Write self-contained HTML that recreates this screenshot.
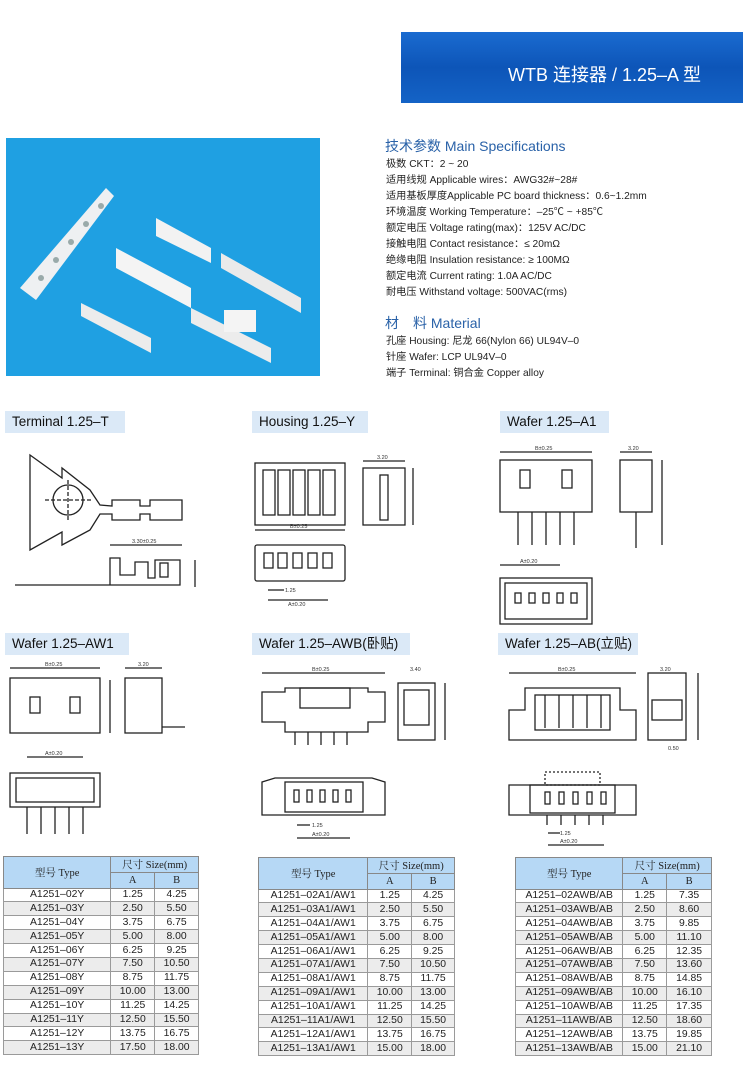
<!DOCTYPE html>
<html><head><meta charset="utf-8"><style>
*{margin:0;padding:0;box-sizing:border-box}
body{width:743px;height:1066px;background:#fff;position:relative;overflow:hidden;font-family:"Liberation Sans","Noto Sans CJK SC",sans-serif;color:#222}
.abs{position:absolute}
.banner{left:401px;top:32px;width:342px;height:71px;background:linear-gradient(180deg,#1a6bd0 0%,#0d55b8 50%,#1463c6 100%)}
.banner span{position:absolute;left:107px;top:29px;color:#fff;font-size:18px;white-space:nowrap}
.photo{left:6px;top:138px;width:314px;height:238px;background:#1fa0e2}
.spec{left:386px;font-size:10.2px;white-space:nowrap;color:#222}
.h{left:385px;font-size:14px;color:#2a62a8;white-space:nowrap}
.lab{background:#dbe9f7;font-size:13.5px;height:22px;line-height:22px;padding-left:7px;white-space:nowrap;color:#111}
table{position:absolute;border-collapse:collapse;font-size:10.4px;border:1.5px solid #555}
td{border:1px solid #9a9a9a;text-align:center;height:13.9px;padding:0;line-height:12px}
tr.g td{background:#ececec}
th{background:#b6d8f5;font-family:"Liberation Serif","Noto Serif CJK SC",serif;font-weight:normal;font-size:10.5px;border:1px solid #888;height:15.5px;padding:0}
</style></head><body>
<div class="abs banner"><span>WTB 连接器 / 1.25–A 型</span></div>
<div class="abs photo">
<svg width="314" height="238">
<polygon points="14,150 100,50 108,58 30,162" fill="#eef0f2"/>
<g fill="#9aa"><circle cx="95" cy="68" r="3"/><circle cx="80" cy="86" r="3"/><circle cx="65" cy="104" r="3"/><circle cx="50" cy="122" r="3"/><circle cx="35" cy="140" r="3"/></g>
<polygon points="150,80 205,110 205,125 150,98" fill="#f2f2f2"/>
<polygon points="110,110 185,150 185,170 110,130" fill="#f4f4f4"/>
<polygon points="215,115 295,160 295,175 215,130" fill="#eaeaea"/>
<polygon points="75,165 145,200 145,215 75,178" fill="#ececec"/>
<polygon points="185,170 265,210 265,225 185,185" fill="#ececec"/>
<rect x="218" y="172" width="32" height="22" fill="#f4f4f4"/>
</svg></div>
<div class="abs h" style="top:136px">技术参数 Main Specifications</div>
<div class="abs spec" style="top:155px">极数 CKT：2 ~ 20</div>
<div class="abs spec" style="top:171px">适用线规 Applicable wires：AWG32#~28#</div>
<div class="abs spec" style="top:187px">适用基板厚度Applicable PC board thickness：0.6~1.2mm</div>
<div class="abs spec" style="top:203px">环境温度 Working Temperature：–25℃ ~ +85℃</div>
<div class="abs spec" style="top:219px">额定电压 Voltage rating(max)：125V AC/DC</div>
<div class="abs spec" style="top:235px">接触电阻 Contact resistance：≤ 20mΩ</div>
<div class="abs spec" style="top:251px">绝缘电阻 Insulation resistance: ≥ 100MΩ</div>
<div class="abs spec" style="top:267px">额定电流 Current rating: 1.0A AC/DC</div>
<div class="abs spec" style="top:283px">耐电压 Withstand voltage: 500VAC(rms)</div>
<div class="abs h" style="top:313px">材　料 Material</div>
<div class="abs spec" style="top:332px">孔座 Housing: 尼龙 66(Nylon 66) UL94V–0</div>
<div class="abs spec" style="top:348px">针座 Wafer: LCP UL94V–0</div>
<div class="abs spec" style="top:364px">端子 Terminal: 铜合金 Copper alloy</div>

<div class="abs lab" style="left:5px;top:411px;width:120px">Terminal 1.25–T</div>
<div class="abs lab" style="left:252px;top:411px;width:116px">Housing 1.25–Y</div>
<div class="abs lab" style="left:500px;top:411px;width:109px">Wafer 1.25–A1</div>
<div class="abs lab" style="left:5px;top:633px;width:124px">Wafer 1.25–AW1</div>
<div class="abs lab" style="left:252px;top:633px;width:158px">Wafer 1.25–AWB(卧贴)</div>
<div class="abs lab" style="left:498px;top:633px;width:140px">Wafer 1.25–AB(立贴)</div>

<svg class="abs" style="left:0;top:0" width="743" height="860" fill="none" stroke="#222" stroke-width="1.3" font-family="Liberation Sans" font-size="5.5">
<polygon points="30,455 62,478 62,468 90,490 100,505 112,506 112,500 140,500 140,506 150,506 150,500 182,500 182,520 150,520 150,514 140,514 140,520 112,520 112,514 100,514 90,530 62,545 62,532 30,550 30,455"/>
<circle cx="68" cy="500" r="15"/>
<line x1="45" y1="500" x2="92" y2="500" stroke-dasharray="4,2"/>
<line x1="68" y1="480" x2="68" y2="520" stroke-dasharray="4,2"/>
<path d="M15,585 H110 V558 H120 V575 H135 V562 H148 V578 H155 V560 H180 V585 H110"/>
<rect x="160" y="563" width="8" height="14"/>
<line x1="110" y1="545" x2="182" y2="545"/><text x="132" y="543" stroke="none" fill="#333">3.30±0.25</text>
<line x1="195" y1="560" x2="195" y2="587"/>
<rect x="255" y="463" width="90" height="62"/>
<g><rect x="263" y="470" width="12" height="45"/><rect x="278" y="470" width="12" height="45"/><rect x="293" y="470" width="12" height="45"/><rect x="308" y="470" width="12" height="45"/><rect x="323" y="470" width="12" height="45"/></g>
<line x1="255" y1="530" x2="345" y2="530"/><text x="290" y="528" stroke="none" fill="#333">B±0.25</text>
<rect x="363" y="468" width="42" height="57"/><rect x="380" y="475" width="8" height="45"/>
<line x1="363" y1="461" x2="405" y2="461"/><text x="377" y="459" stroke="none" fill="#333">3.20</text>
<line x1="413" y1="468" x2="413" y2="525"/>
<rect x="255" y="545" width="90" height="36" rx="2"/>
<g><rect x="264" y="553" width="9" height="15"/><rect x="278" y="553" width="9" height="15"/><rect x="293" y="553" width="9" height="15"/><rect x="308" y="553" width="9" height="15"/><rect x="323" y="553" width="9" height="15"/></g>
<line x1="268" y1="590" x2="284" y2="590"/><text x="285" y="592" stroke="none" fill="#333">1.25</text>
<line x1="268" y1="600" x2="328" y2="600"/><text x="288" y="606" stroke="none" fill="#333">A±0.20</text>
<line x1="500" y1="452" x2="592" y2="452"/><text x="535" y="450" stroke="none" fill="#333">B±0.25</text>
<rect x="500" y="460" width="92" height="52"/>
<rect x="520" y="470" width="10" height="18"/><rect x="562" y="470" width="10" height="18"/>
<g><line x1="518" y1="512" x2="518" y2="545"/><line x1="532" y1="512" x2="532" y2="545"/><line x1="546" y1="512" x2="546" y2="545"/><line x1="560" y1="512" x2="560" y2="545"/><line x1="574" y1="512" x2="574" y2="545"/></g>
<rect x="620" y="460" width="32" height="52"/><line x1="636" y1="512" x2="636" y2="548"/>
<line x1="620" y1="452" x2="652" y2="452"/><text x="628" y="450" stroke="none" fill="#333">3.20</text>
<line x1="662" y1="460" x2="662" y2="545"/>
<line x1="500" y1="565" x2="560" y2="565"/><text x="520" y="563" stroke="none" fill="#333">A±0.20</text>
<rect x="500" y="578" width="92" height="46"/><rect x="505" y="583" width="82" height="36"/>
<g><rect x="515" y="593" width="6" height="10"/><rect x="529" y="593" width="6" height="10"/><rect x="543" y="593" width="6" height="10"/><rect x="557" y="593" width="6" height="10"/><rect x="571" y="593" width="6" height="10"/></g>
<line x1="10" y1="668" x2="100" y2="668"/><text x="45" y="666" stroke="none" fill="#333">B±0.25</text>
<rect x="10" y="678" width="90" height="55"/>
<rect x="30" y="697" width="10" height="16"/><rect x="70" y="697" width="10" height="16"/>
<rect x="125" y="678" width="37" height="55"/><line x1="162" y1="727" x2="185" y2="727"/>
<line x1="125" y1="668" x2="162" y2="668"/><text x="138" y="666" stroke="none" fill="#333">3.20</text>
<line x1="110" y1="680" x2="110" y2="733"/>
<rect x="10" y="773" width="90" height="34"/><rect x="16" y="778" width="78" height="24"/>
<g><line x1="27" y1="807" x2="27" y2="834"/><line x1="41" y1="807" x2="41" y2="834"/><line x1="55" y1="807" x2="55" y2="834"/><line x1="69" y1="807" x2="69" y2="834"/><line x1="83" y1="807" x2="83" y2="834"/></g>
<line x1="27" y1="757" x2="83" y2="757"/><text x="45" y="755" stroke="none" fill="#333">A±0.20</text>
<line x1="262" y1="673" x2="385" y2="673"/><text x="312" y="671" stroke="none" fill="#333">B±0.25</text>
<path d="M262,692 H285 V688 H368 V692 H385 V722 H368 V732 H285 V722 H262 Z"/>
<rect x="300" y="688" width="50" height="20"/>
<g><line x1="295" y1="732" x2="295" y2="745"/><line x1="308" y1="732" x2="308" y2="745"/><line x1="321" y1="732" x2="321" y2="745"/><line x1="334" y1="732" x2="334" y2="745"/><line x1="347" y1="732" x2="347" y2="745"/></g>
<rect x="398" y="683" width="37" height="57"/><rect x="404" y="690" width="25" height="35"/>
<text x="410" y="671" stroke="none" fill="#333">3.40</text>
<line x1="445" y1="683" x2="445" y2="740"/>
<path d="M262,782 L275,778 H372 L385,782 V815 H262 Z"/><rect x="285" y="782" width="78" height="30"/>
<g><rect x="294" y="790" width="5" height="12"/><rect x="307" y="790" width="5" height="12"/><rect x="320" y="790" width="5" height="12"/><rect x="333" y="790" width="5" height="12"/><rect x="346" y="790" width="5" height="12"/></g>
<line x1="297" y1="825" x2="310" y2="825"/><text x="312" y="827" stroke="none" fill="#333">1.25</text>
<line x1="297" y1="838" x2="350" y2="838"/><text x="312" y="836" stroke="none" fill="#333">A±0.20</text>
<line x1="509" y1="673" x2="636" y2="673"/><text x="558" y="671" stroke="none" fill="#333">B±0.25</text>
<path d="M509,710 H525 V688 H620 V710 H636 V740 H509 Z"/>
<rect x="535" y="695" width="75" height="35"/>
<g><line x1="545" y1="695" x2="545" y2="728"/><line x1="559" y1="695" x2="559" y2="728"/><line x1="573" y1="695" x2="573" y2="728"/><line x1="587" y1="695" x2="587" y2="728"/><line x1="601" y1="695" x2="601" y2="728"/></g>
<rect x="648" y="673" width="38" height="67"/><rect x="652" y="700" width="30" height="20"/>
<text x="660" y="671" stroke="none" fill="#333">3.20</text>
<line x1="698" y1="673" x2="698" y2="740"/><text x="668" y="750" stroke="none" fill="#333">0.50</text>
<path d="M509,785 H636 V815 H509 Z"/><rect x="530" y="785" width="85" height="28"/>
<rect x="545" y="772" width="55" height="13" stroke-dasharray="2,2"/>
<g><rect x="545" y="792" width="5" height="12"/><rect x="559" y="792" width="5" height="12"/><rect x="573" y="792" width="5" height="12"/><rect x="587" y="792" width="5" height="12"/><rect x="601" y="792" width="5" height="12"/></g>
<g><line x1="547" y1="815" x2="547" y2="825"/><line x1="561" y1="815" x2="561" y2="825"/><line x1="575" y1="815" x2="575" y2="825"/><line x1="589" y1="815" x2="589" y2="825"/><line x1="603" y1="815" x2="603" y2="825"/></g>
<line x1="548" y1="833" x2="560" y2="833"/><text x="560" y="835" stroke="none" fill="#333">1.25</text>
<line x1="548" y1="845" x2="604" y2="845"/><text x="560" y="843" stroke="none" fill="#333">A±0.20</text>
</svg>

<table style="left:3px;top:856px;width:196px">
<colgroup><col style="width:108px"><col style="width:44px"><col style="width:44px"></colgroup>
<tr><th rowspan="2">型号 Type</th><th colspan="2">尺寸 Size(mm)</th></tr><tr><th>A</th><th>B</th></tr>
<tr><td>A1251–02Y</td><td>1.25</td><td>4.25</td></tr>
<tr class="g"><td>A1251–03Y</td><td>2.50</td><td>5.50</td></tr>
<tr><td>A1251–04Y</td><td>3.75</td><td>6.75</td></tr>
<tr class="g"><td>A1251–05Y</td><td>5.00</td><td>8.00</td></tr>
<tr><td>A1251–06Y</td><td>6.25</td><td>9.25</td></tr>
<tr class="g"><td>A1251–07Y</td><td>7.50</td><td>10.50</td></tr>
<tr><td>A1251–08Y</td><td>8.75</td><td>11.75</td></tr>
<tr class="g"><td>A1251–09Y</td><td>10.00</td><td>13.00</td></tr>
<tr><td>A1251–10Y</td><td>11.25</td><td>14.25</td></tr>
<tr class="g"><td>A1251–11Y</td><td>12.50</td><td>15.50</td></tr>
<tr><td>A1251–12Y</td><td>13.75</td><td>16.75</td></tr>
<tr class="g"><td>A1251–13Y</td><td>17.50</td><td>18.00</td></tr>
</table>

<table style="left:258px;top:857px;width:197px">
<colgroup><col style="width:110px"><col style="width:44px"><col style="width:43px"></colgroup>
<tr><th rowspan="2">型号 Type</th><th colspan="2">尺寸 Size(mm)</th></tr><tr><th>A</th><th>B</th></tr>
<tr><td>A1251–02A1/AW1</td><td>1.25</td><td>4.25</td></tr>
<tr class="g"><td>A1251–03A1/AW1</td><td>2.50</td><td>5.50</td></tr>
<tr><td>A1251–04A1/AW1</td><td>3.75</td><td>6.75</td></tr>
<tr class="g"><td>A1251–05A1/AW1</td><td>5.00</td><td>8.00</td></tr>
<tr><td>A1251–06A1/AW1</td><td>6.25</td><td>9.25</td></tr>
<tr class="g"><td>A1251–07A1/AW1</td><td>7.50</td><td>10.50</td></tr>
<tr><td>A1251–08A1/AW1</td><td>8.75</td><td>11.75</td></tr>
<tr class="g"><td>A1251–09A1/AW1</td><td>10.00</td><td>13.00</td></tr>
<tr><td>A1251–10A1/AW1</td><td>11.25</td><td>14.25</td></tr>
<tr class="g"><td>A1251–11A1/AW1</td><td>12.50</td><td>15.50</td></tr>
<tr><td>A1251–12A1/AW1</td><td>13.75</td><td>16.75</td></tr>
<tr class="g"><td>A1251–13A1/AW1</td><td>15.00</td><td>18.00</td></tr>
</table>

<table style="left:515px;top:857px;width:197px">
<colgroup><col style="width:108px"><col style="width:44px"><col style="width:45px"></colgroup>
<tr><th rowspan="2">型号 Type</th><th colspan="2">尺寸 Size(mm)</th></tr><tr><th>A</th><th>B</th></tr>
<tr><td>A1251–02AWB/AB</td><td>1.25</td><td>7.35</td></tr>
<tr class="g"><td>A1251–03AWB/AB</td><td>2.50</td><td>8.60</td></tr>
<tr><td>A1251–04AWB/AB</td><td>3.75</td><td>9.85</td></tr>
<tr class="g"><td>A1251–05AWB/AB</td><td>5.00</td><td>11.10</td></tr>
<tr><td>A1251–06AWB/AB</td><td>6.25</td><td>12.35</td></tr>
<tr class="g"><td>A1251–07AWB/AB</td><td>7.50</td><td>13.60</td></tr>
<tr><td>A1251–08AWB/AB</td><td>8.75</td><td>14.85</td></tr>
<tr class="g"><td>A1251–09AWB/AB</td><td>10.00</td><td>16.10</td></tr>
<tr><td>A1251–10AWB/AB</td><td>11.25</td><td>17.35</td></tr>
<tr class="g"><td>A1251–11AWB/AB</td><td>12.50</td><td>18.60</td></tr>
<tr><td>A1251–12AWB/AB</td><td>13.75</td><td>19.85</td></tr>
<tr class="g"><td>A1251–13AWB/AB</td><td>15.00</td><td>21.10</td></tr>
</table>
</body></html>
